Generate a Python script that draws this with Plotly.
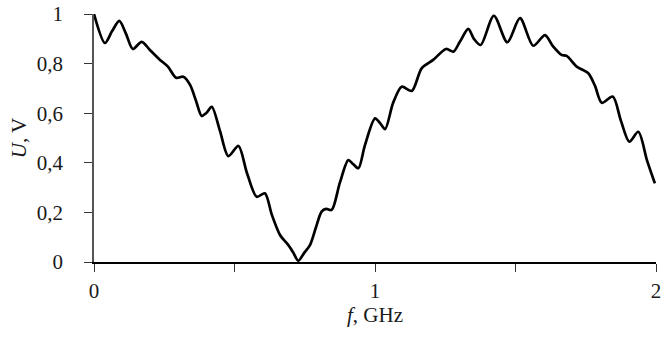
import plotly.graph_objects as go

freq_ghz = [0.000, 0.039, 0.064, 0.090, 0.114, 0.138, 0.170, 0.199, 0.235, 0.263,
            0.292, 0.318, 0.342, 0.363, 0.383, 0.399, 0.419, 0.448, 0.478, 0.514,
            0.544, 0.579, 0.608, 0.633, 0.662, 0.691, 0.708, 0.727, 0.747, 0.769,
            0.790, 0.810, 0.826, 0.846, 0.875, 0.905, 0.922, 0.941, 0.964, 1.000,
            1.018, 1.036, 1.064, 1.095, 1.131, 1.166, 1.207, 1.253, 1.279, 1.302,
            1.332, 1.352, 1.376, 1.423, 1.471, 1.516, 1.563, 1.605, 1.633, 1.664,
            1.682, 1.718, 1.759, 1.783, 1.807, 1.846, 1.875, 1.905, 1.937, 1.968,
            1.996]
voltage_v = [1.000, 0.883, 0.930, 0.972, 0.920, 0.859, 0.888, 0.855, 0.815, 0.788,
             0.743, 0.747, 0.714, 0.650, 0.589, 0.600, 0.626, 0.530, 0.427, 0.468,
             0.360, 0.263, 0.277, 0.190, 0.109, 0.069, 0.040, 0.005, 0.035, 0.069,
             0.140, 0.203, 0.214, 0.210, 0.320, 0.411, 0.395, 0.378, 0.470, 0.579,
             0.560, 0.536, 0.640, 0.707, 0.690, 0.781, 0.815, 0.859, 0.848, 0.888,
             0.940, 0.900, 0.875, 0.993, 0.886, 0.983, 0.872, 0.915, 0.870, 0.835,
             0.831, 0.788, 0.761, 0.710, 0.642, 0.667, 0.570, 0.485, 0.525, 0.410,
             0.317]

x_tickvals = [0, 0.5, 1, 1.5, 2]
x_ticktext = ["0", "", "1", "", "2"]
y_tickvals = [0, 0.2, 0.4, 0.6, 0.8, 1]
y_ticktext = ["0", "0,2", "0,4", "0,6", "0,8", "1"]

serif = "Liberation Serif, Times New Roman, serif"
fs = 21

fig = go.Figure()
fig.add_trace(go.Scatter(
    x=freq_ghz, y=voltage_v, mode="lines",
    line=dict(color="black", width=2.7, shape="spline", smoothing=0.8),
    cliponaxis=False, showlegend=False, hoverinfo="skip"))

fig.update_layout(
    width=662, height=338,
    margin=dict(l=94, r=6, t=14, b=76),
    paper_bgcolor="white", plot_bgcolor="white",
    font=dict(family=serif, size=fs, color="#1a1a1a"),
    xaxis=dict(range=[0, 2], tickvals=x_tickvals, ticktext=x_ticktext,
               automargin=False, ticklabeloverflow="allow",
               showgrid=False, zeroline=False, showline=True,
               linecolor="black", linewidth=1.5,
               ticks="outside", ticklen=8, tickwidth=1.2, tickcolor="#333",
               ticklabelstandoff=1,
               tickfont=dict(family=serif, size=fs),
               title=dict(text="<i>f</i>, GHz", font=dict(family=serif, size=fs), standoff=2)),
    yaxis=dict(range=[0, 1], tickvals=y_tickvals, ticktext=y_ticktext,
               automargin=False, ticklabeloverflow="allow",
               showgrid=False, zeroline=False, showline=True,
               linecolor="#555", linewidth=1.5,
               ticks="outside", ticklen=8, tickwidth=1.2, tickcolor="#333",
               ticklabelstandoff=17,
               tickfont=dict(family=serif, size=fs),
               title=dict(text="<i>U</i>, V", font=dict(family=serif, size=fs), standoff=4)),
)

fig.write_html("out.html", config={"displayModeBar": False},
               post_script="document.body.style.margin='0';document.body.style.padding='0';")
